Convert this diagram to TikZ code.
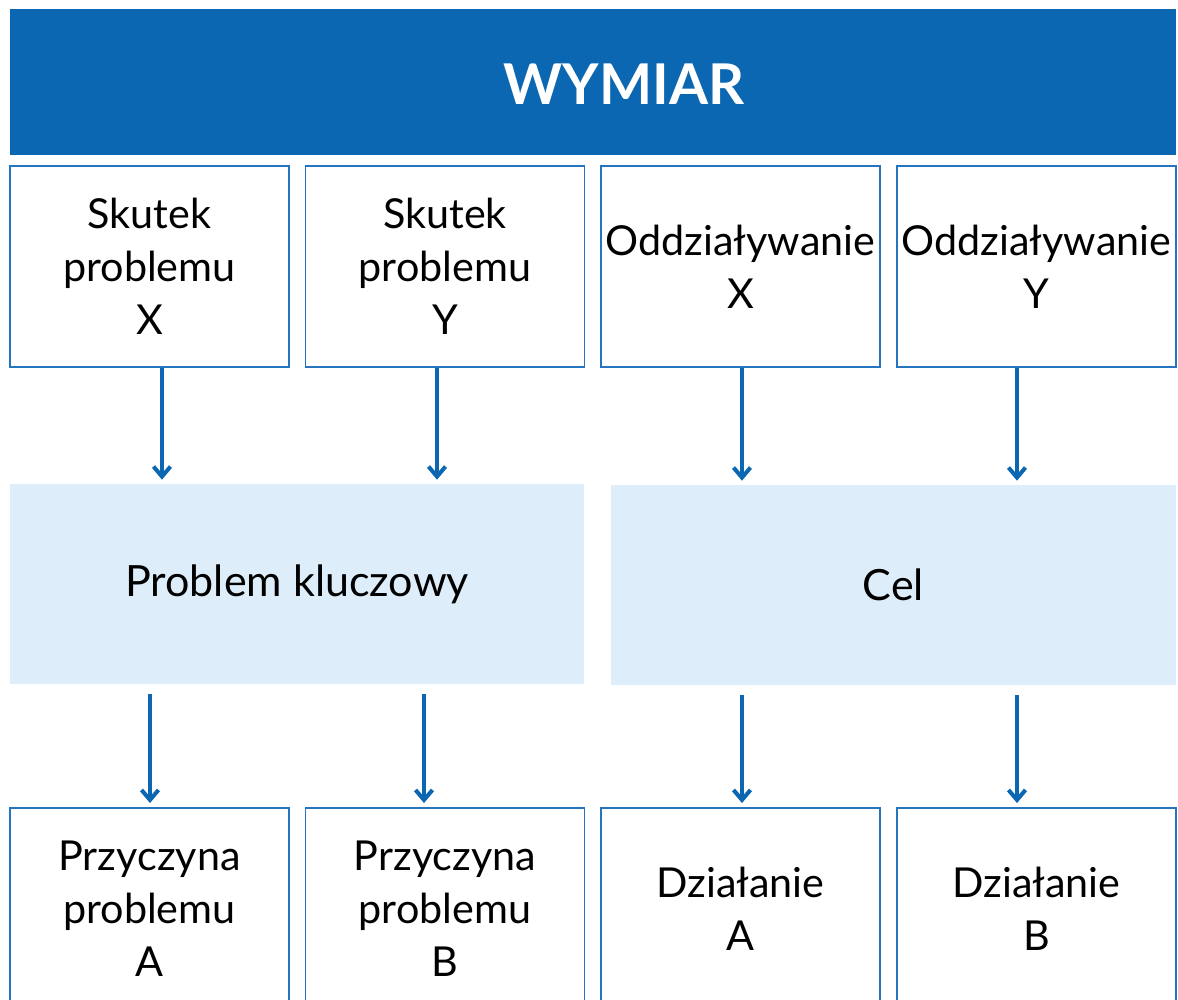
\documentclass[tikz,border=0pt]{standalone}
\usepackage{fontspec}
\setmainfont{Lato}
\usetikzlibrary{arrows.meta}
\definecolor{wymblue}{HTML}{0B67B1}
\definecolor{ramka}{HTML}{2475BE}
\definecolor{jasny}{HTML}{DDEEFA}
\begin{document}
\begin{tikzpicture}[x=0.02cm, y=-0.02cm,
  box/.style={draw=ramka, line width=1.1pt, minimum width=5.58cm, minimum height=4.02cm, inner sep=0pt, align=center, font=\fontsize{23.5}{30}\selectfont},
  pale/.style={fill=jasny, minimum height=4cm, inner sep=0pt, font=\fontsize{24.5}{30}\selectfont},
  arr/.style={-{Straight Barb[length=2mm, width=3.4mm]}, draw=wymblue, line width=2.3pt, shorten >=0.08cm}]
\useasboundingbox (0,0) rectangle (1178,1000);
\clip (0,0) rectangle (1178,1000);
\node [fill=wymblue, minimum width=23.32cm, minimum height=2.92cm, inner sep=0pt] (wym) at (593,82) {};
\node [text=white, font=\fontsize{32}{36}\bfseries\selectfont, inner sep=0pt] (wymt) at (624,84) {WYMIAR};
\node [box] (n00) at (149.5,266.5) {Skutek\\problemu\\X};
\node [box] (n01) at (445,266.5) {Skutek\\problemu\\Y};
\node [box] (n02) at (740.5,266.5) {Oddziaływanie\\X};
\node [box] (n03) at (1036.5,266.5) {Oddziaływanie\\Y};
\node [pale, minimum width=11.48cm] (n10) at (297,584) {Problem kluczowy};
\node [pale, minimum width=11.3cm] (n11) at (893.5,585) {Cel};
\node [box] (n20) at (149.5,908.5) {Przyczyna\\problemu\\A};
\node [box] (n21) at (445,908.5) {Przyczyna\\problemu\\B};
\node [box] (n22) at (740.5,908.5) {Działanie\\A};
\node [box] (n23) at (1036.5,908.5) {Działanie\\B};
\draw [arr] (n00.south -| 162,0) to (n10.north -| 162,0);
\draw [arr] (n01.south -| 437,0) to (n10.north -| 437,0);
\draw [arr] (n02.south -| 742,0) to (n11.north -| 742,0);
\draw [arr] (n03.south -| 1017,0) to (n11.north -| 1017,0);
\draw [arr, shorten <=0.2cm] (n10.south -| 150,0) to (n20.north -| 150,0);
\draw [arr, shorten <=0.2cm] (n10.south -| 424,0) to (n21.north -| 424,0);
\draw [arr, shorten <=0.2cm] (n11.south -| 742,0) to (n22.north -| 742,0);
\draw [arr, shorten <=0.2cm] (n11.south -| 1017,0) to (n23.north -| 1017,0);
\end{tikzpicture}
\end{document}
